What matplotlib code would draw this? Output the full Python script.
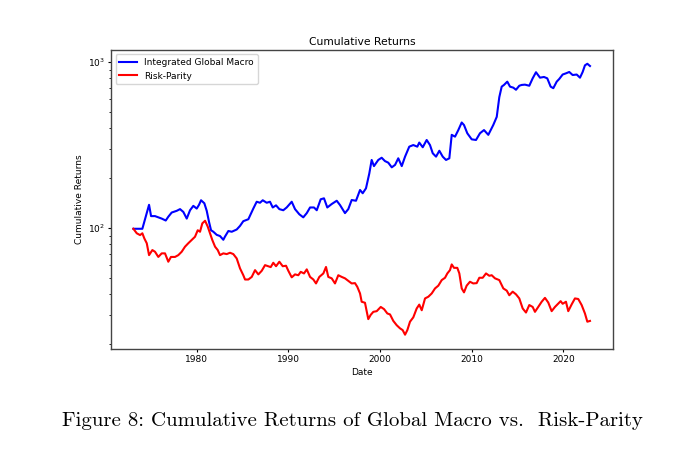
import numpy as np
import matplotlib
matplotlib.use("Agg")
import matplotlib.pyplot as plt

################### data ##################
# Integrated Global Macro (blue)
macro_years = [1973.09, 1974.07, 1974.80, 1975.02, 1975.45, 1975.81, 1976.18, 1976.62, 1976.90,
               1977.27, 1977.82, 1978.18, 1978.54, 1978.91, 1979.27, 1979.63, 1980.00, 1980.25,
               1980.47, 1980.83, 1981.09, 1981.34, 1981.56, 1981.81, 1982.18, 1982.54, 1982.90,
               1983.09, 1983.45, 1983.82, 1984.36, 1984.72, 1985.08, 1985.63, 1986.17, 1986.54,
               1986.90, 1987.20, 1987.63, 1987.99, 1988.29, 1988.65, 1989.01, 1989.44, 1989.81,
               1990.36, 1990.72, 1991.19, 1991.62, 1992.00, 1992.36, 1992.79, 1993.09, 1993.52,
               1993.88, 1994.24, 1994.72, 1995.27, 1995.63, 1996.17, 1996.53, 1996.90, 1997.37,
               1997.81, 1998.10, 1998.46, 1998.82, 1999.08, 1999.33, 1999.80, 2000.17, 2000.53,
               2000.89, 2001.27, 2001.63, 2001.98, 2002.36, 2002.72, 2003.18, 2003.62, 2004.06,
               2004.27, 2004.65, 2005.08, 2005.44, 2005.74, 2006.10, 2006.46, 2006.83, 2007.19,
               2007.55, 2007.81, 2008.17, 2008.53, 2008.90, 2009.15, 2009.51, 2009.99, 2010.46,
               2010.89, 2011.33, 2011.80, 2012.34, 2012.72, 2012.89, 2013.00, 2013.26, 2013.51,
               2013.87, 2014.17, 2014.53, 2014.82, 2015.18, 2015.44, 2015.80, 2016.27, 2016.64,
               2017.00, 2017.44, 2017.87, 2018.23, 2018.60, 2018.89, 2019.26, 2019.54, 2019.91,
               2020.27, 2020.63, 2021.00, 2021.44, 2021.80, 2022.09, 2022.34, 2022.60, 2022.89]
macro_values = [99, 99, 138, 118, 118, 116, 114, 111, 117,
                124, 127, 130, 125, 114, 128, 136, 131, 138,
                147, 141, 127, 109, 97, 95, 91, 89.5, 85,
                89, 96, 95, 98, 103, 110, 113, 131, 144,
                142, 147, 142, 144, 133, 137, 130, 128, 133,
                144, 130, 121, 116, 123, 133, 133, 128, 149,
                151, 133, 139.5, 146, 137.5, 123, 130, 147.5, 146,
                169.5, 162, 173.5, 213, 257, 236, 257, 265, 253,
                247.5, 232, 240, 263, 236, 269, 309, 316, 309,
                327, 306.5, 339, 316, 282, 269, 292, 269, 257,
                263, 364, 355, 389, 432, 417, 372, 342, 339,
                372, 389, 364, 417, 467, 551, 614, 710, 727,
                761, 710, 700, 680, 719, 727, 730, 719, 797,
                867, 804, 812, 797, 710, 695, 761, 790, 840,
                854, 870, 834, 840, 804, 870, 954, 975, 945]

# Risk-Parity (red)
rp_years = [1973.09, 1973.46, 1973.82, 1974.07, 1974.29, 1974.55, 1974.80, 1975.16, 1975.45,
            1975.81, 1976.18, 1976.54, 1976.90, 1977.19, 1977.63, 1977.99, 1978.36, 1978.72,
            1979.08, 1979.45, 1979.81, 1980.11, 1980.36, 1980.61, 1980.91, 1981.20, 1981.45,
            1981.70, 1982.00, 1982.29, 1982.54, 1982.90, 1983.27, 1983.63, 1983.99, 1984.36,
            1984.72, 1985.08, 1985.27, 1985.63, 1986.00, 1986.36, 1986.72, 1987.09, 1987.45,
            1987.81, 1988.07, 1988.35, 1988.65, 1989.01, 1989.38, 1989.74, 1989.99, 1990.36,
            1990.72, 1991.08, 1991.34, 1991.70, 1992.00, 1992.36, 1992.72, 1993.01, 1993.37,
            1993.81, 1994.10, 1994.35, 1994.72, 1995.08, 1995.44, 1995.81, 1996.17, 1996.53,
            1996.90, 1997.26, 1997.51, 1997.81, 1997.99, 1998.35, 1998.71, 1998.97, 1999.26,
            1999.63, 2000.07, 2000.43, 2000.79, 2001.08, 2001.44, 2001.81, 2002.17, 2002.46,
            2002.72, 2002.97, 2003.26, 2003.62, 2003.99, 2004.27, 2004.54, 2004.90, 2005.26,
            2005.63, 2005.99, 2006.35, 2006.72, 2007.08, 2007.33, 2007.62, 2007.81, 2008.06,
            2008.42, 2008.64, 2008.90, 2009.15, 2009.44, 2009.80, 2010.16, 2010.53, 2010.82,
            2011.19, 2011.55, 2011.91, 2012.17, 2012.53, 2013.00, 2013.44, 2013.81, 2014.09,
            2014.46, 2014.82, 2015.18, 2015.55, 2015.91, 2016.27, 2016.64, 2016.89, 2017.25,
            2017.62, 2017.98, 2018.34, 2018.71, 2019.07, 2019.43, 2019.69, 2019.91, 2020.27,
            2020.52, 2020.89, 2021.25, 2021.61, 2021.98, 2022.34, 2022.60, 2022.89]
rp_values = [99, 93, 90.7, 93, 86.5, 81, 68.7, 73.7, 72,
             67, 70.4, 70.4, 62.7, 67, 67, 68.7, 72, 77.2,
             81, 84.7, 88.6, 97, 95, 106.7, 110.6, 102, 93,
             84.7, 77.2, 73.7, 68.7, 70.4, 69.7, 71, 69.7, 65.6,
             57.2, 52, 49, 49, 50.8, 55.8, 52.6, 55.3, 59.8,
             58.9, 58.2, 61.8, 58.9, 62.7, 58.9, 59.3, 55.3, 50.5,
             52.6, 52, 54.5, 53.3, 56.4, 50.8, 49, 46.4, 50.8,
             53.3, 58.3, 50.8, 49.8, 46.4, 52, 50.8, 49.8, 48.1,
             46.4, 46.6, 44.3, 40.4, 36.0, 35.5, 28.3, 30, 31.3,
             31.6, 33.5, 32.5, 30.6, 30.2, 27.6, 26, 24.9, 24.3,
             22.8, 24.3, 27.3, 29.0, 32.8, 34.6, 32, 37.7, 38.6,
             40.4, 43.3, 45, 48.6, 50.2, 53.3, 55.8, 60.4, 57.6,
             57.6, 53.3, 43.3, 41, 45, 47.5, 46.4, 46.6, 50.2,
             50.2, 53.3, 51.6, 52, 49.8, 48.6, 43.3, 42, 39.4,
             41.4, 39.9, 37.7, 32.8, 31.0, 34.4, 33.5, 31.3, 33.5,
             36, 38.0, 35.6, 31.6, 33.5, 35.1, 36.3, 35.0, 36,
             31.6, 34.7, 37.7, 37.4, 34.4, 30.6, 27.3, 27.6]

################## plot ##################
s = 0.648  # the original 10x6 figure was shrunk into the page
plt.rcParams['font.size'] = 10 * s
plt.rcParams['xtick.major.size'] = 3.5 * s
plt.rcParams['ytick.major.size'] = 3.5 * s
plt.rcParams['ytick.minor.size'] = 2 * s
plt.rcParams['xtick.major.pad'] = 3.5 * s
plt.rcParams['ytick.major.pad'] = 3.5 * s
plt.rcParams['axes.linewidth'] = 1.0

fig = plt.figure(figsize=(6.86, 4.58), dpi=100)
ax = fig.add_axes([111 / 686, 109 / 458, 502 / 686, 299 / 458])

ax.plot(macro_years, macro_values, color='blue', linewidth=1.5, label='Integrated Global Macro')
ax.plot(rp_years, rp_values, color='red', linewidth=1.5, label='Risk-Parity')
ax.set_yscale('log')
ax.set_ylim(18.7, 1180)
ax.set_xlim(1970.65, 2025.4)
ax.set_xticks([1980, 1990, 2000, 2010, 2020])
for sp in ax.spines.values():
    sp.set_color('#444444')

ax.set_title('Cumulative Returns', fontsize=12 * s, pad=6 * s)
ax.set_xlabel('Date', labelpad=4 * s)
ax.set_ylabel('Cumulative Returns', labelpad=4 * s)
ax.legend(loc='upper left', fontsize=10 * s, handlelength=2.0, borderpad=0.4,
          labelspacing=0.5, borderaxespad=0.5)

fig.text(0.514, 0.081, 'Figure 8: Cumulative Returns of Global Macro vs.  Risk-Parity',
         family='cmr10', fontsize=15, ha='center', va='center')

fig.savefig('out.png', dpi=100)
